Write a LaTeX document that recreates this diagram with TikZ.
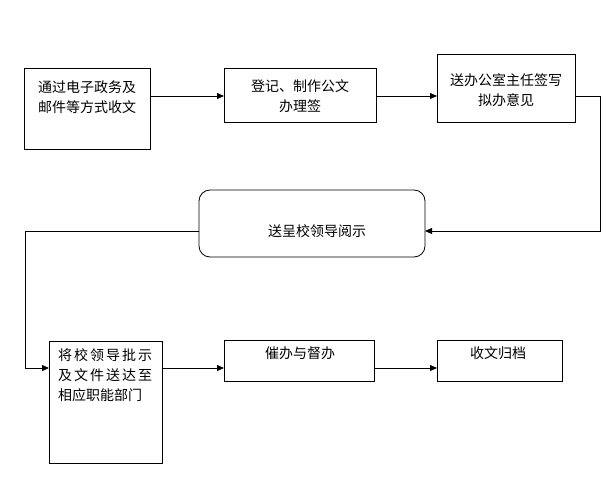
\documentclass[tikz,border=0pt]{standalone}
\usepackage{fontspec}
\setmainfont{Noto Sans CJK SC}
\usetikzlibrary{arrows.meta,calc}
\begin{document}
\begin{tikzpicture}[x=1pt,y=-1pt,
  box/.style={draw=black,line width=0.8pt,anchor=north west,inner sep=0pt,outer sep=0pt},
  rbox/.style={box,rounded corners=11pt},
  txt/.style={inner sep=0pt,align=center,font=\fontsize{14}{20}\selectfont},
  arr/.style={draw=black,line width=0.8pt,-{Triangle[length=7pt,width=6pt]}},
  ln/.style={draw=black,line width=0.8pt}]
\useasboundingbox (0,0) rectangle (612,477);
\node[box,minimum width=126pt,minimum height=81pt] (b1) at (24,68) {};
\node[box,minimum width=152pt,minimum height=54pt] (b2) at (224,68) {};
\node[box,minimum width=138pt,minimum height=68pt] (b3) at (437,54) {};
\node[rbox,minimum width=226pt,minimum height=67pt] (r) at (199,190) {};
\node[box,minimum width=113pt,minimum height=122pt] (b4) at (49,341) {};
\node[box,minimum width=150pt,minimum height=41pt] (b5) at (224,340) {};
\node[box,minimum width=125pt,minimum height=41pt] (b6) at (437,340) {};
\node[txt] (t1) at (87,97) {通过电子政务及\\邮件等方式收文};
\node[txt] (t2) at (300,96) {登记、制作公文\\办理签};
\node[txt] (t3) at (506,90) {送办公室主任签写\\拟办意见};
\node[txt] (tr) at (317,231) {送呈校领导阅示};
\node[txt,anchor=north west,align=left] (t4) at (58,348) {将\kern2pt 校\kern2pt 领\kern2pt 导\kern2pt 批\kern2pt 示\\及\kern2pt 文\kern2pt 件\kern2pt 送\kern2pt 达\kern2pt 至\\相应职能部门};
\node[txt] (t5) at (300,353) {催办与督办};
\node[txt] (t6) at (498,353) {收文归档};
\coordinate (yA) at (0,96);
\coordinate (yB) at (0,231);
\coordinate (yC) at (0,368);
\coordinate (c1) at (600,96);
\coordinate (c2) at (600,231);
\coordinate (c3) at (25,231);
\coordinate (c4) at (25,368);
\draw[arr] (b1.east |- yA) -- (b2.west |- yA);
\draw[arr] (b2.east |- yA) -- (b3.west |- yA);
\draw[arr] (b3.east |- yA) -- (c1) -- (c2) -- (r.east |- yB);
\draw[ln] (r.west |- yB) -- (c3) -- (c4);
\draw[arr] (c4) -- (b4.west |- yC);
\draw[arr] (b4.east |- yC) -- (b5.west |- yC);
\draw[arr] (b5.east |- yC) -- (b6.west |- yC);
\end{tikzpicture}
\end{document}
